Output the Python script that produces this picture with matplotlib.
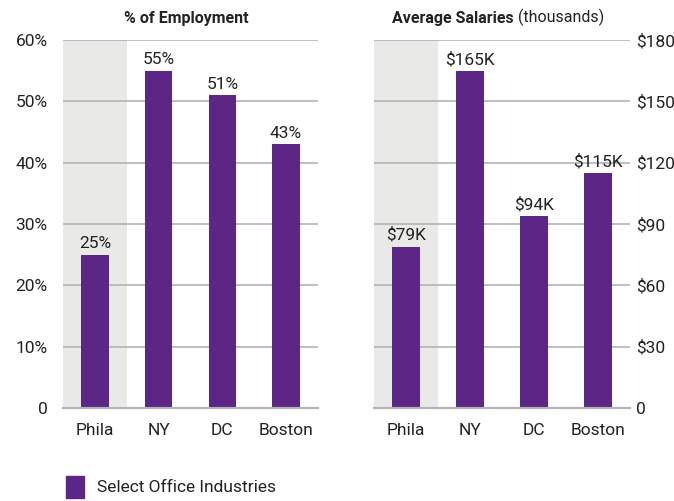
import matplotlib.pyplot as plt
from matplotlib.patches import Patch

# Data
cities = ['Phila', 'NY', 'DC', 'Boston']
employment_pct = [25, 55, 51, 43]
salaries_k = [79, 165, 94, 115]
pct_ticks = [0, 10, 20, 30, 40, 50, 60]
pct_ticklabels = ['0', '10%', '20%', '30%', '40%', '50%', '60%']
sal_ticks = [0, 30, 60, 90, 120, 150, 180]
sal_ticklabels = ['0', '$30', '$60', '$90', '$120', '$150', '$180']

purple = '#5c2686'
grid_c = '#b3b3b3'
shade = '#e9e9e8'
txt = '#222222'

plt.rcParams['font.family'] = ['Roboto', 'DejaVu Sans']
FS = 12

fig = plt.figure(figsize=(6.74, 5.01), dpi=100)
ax1 = fig.add_axes([0.0935, 0.1856, 0.378, 0.7345])
ax2 = fig.add_axes([0.555, 0.1856, 0.380, 0.7345])


def style(ax, vals, labels, ticks, ticklabels, ymax, fmt, right=False):
    x = range(len(labels))
    ax.axvspan(-0.5, 0.5, color=shade, zorder=0, lw=0)
    for t in ticks[1:]:
        ax.axhline(t, color=grid_c, lw=1.2, zorder=1)
    ax.bar(x, vals, width=0.43, color=purple, zorder=2)
    for i, v in zip(x, vals):
        ax.text(i, v + ymax * 0.01, fmt(v), ha='center', va='bottom',
                fontsize=FS + 0.5, color=txt)
    ax.set_xlim(-0.5, len(labels) - 0.5)
    ax.set_ylim(0, ymax)
    ax.set_xticks(list(x))
    ax.set_xticklabels(labels, fontsize=FS + 0.5, color=txt)
    ax.set_yticks(ticks)
    ax.set_yticklabels(ticklabels, fontsize=FS + 0.5, color=txt)
    ax.tick_params(length=0, pad=11)
    ax.tick_params(axis='x', pad=11)
    for s in ['top', 'left', 'right']:
        ax.spines[s].set_visible(False)
    ax.spines['bottom'].set_color(grid_c)
    ax.spines['bottom'].set_linewidth(1.5)
    if right:
        ax.yaxis.tick_right()
        ax.tick_params(axis='y', pad=4)


style(ax1, employment_pct, cities, pct_ticks, pct_ticklabels, 60,
      lambda v: f'{v}%')
style(ax2, salaries_k, cities, sal_ticks, sal_ticklabels, 180,
      lambda v: f'${v}K', right=True)

fig.text(0.276, 0.955, '% of Employment', fontsize=11.5, fontweight='bold',
         color=txt, ha='center', va='baseline')
fig.text(0.762, 0.955, 'Average Salaries', fontsize=11.5, fontweight='bold',
         color=txt, ha='right', va='baseline')
fig.text(0.768, 0.955, '(thousands)', fontsize=11.5, color=txt,
         ha='left', va='baseline')

fig.legend(handles=[Patch(color=purple, label='Select Office Industries')],
           loc='lower left', bbox_to_anchor=(0.075, -0.025), frameon=False,
           fontsize=FS + 0.5, handlelength=1.0, handleheight=1.6,
           handletextpad=0.8, labelcolor=txt)

fig.savefig('out.png', dpi=100)
